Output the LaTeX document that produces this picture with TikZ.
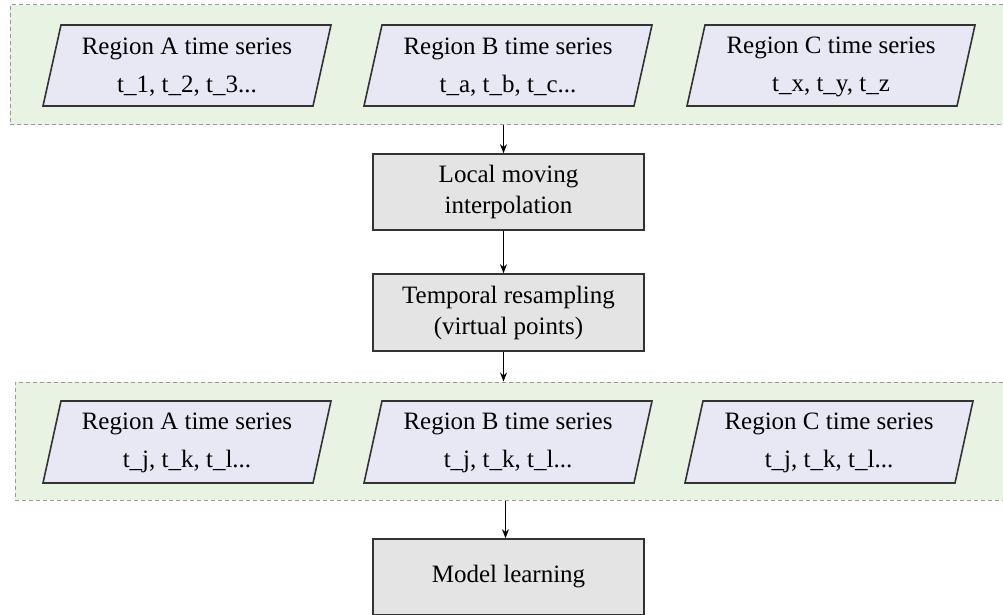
\documentclass[tikz,border=0pt]{standalone}
\usepackage{fontspec}
\setmainfont{Liberation Serif}
\usetikzlibrary{arrows.meta}
\definecolor{grpfill}{HTML}{E9F3E4}
\definecolor{grpline}{HTML}{9A9A9A}
\definecolor{parafill}{HTML}{E8E8F5}
\definecolor{boxfill}{HTML}{E4E4E4}
\definecolor{edgecol}{HTML}{333333}
\tikzset{
  group/.style={draw=grpline, fill=grpfill, line width=1pt, dash pattern=on 4pt off 3pt, rectangle, inner sep=0pt},
  para/.style={draw=edgecol, fill=parafill, line width=1.6pt, line join=miter},
  paratext/.style={align=center, inner sep=0pt, font=\fontsize{25}{38}\selectfont},
  procbox/.style={draw=edgecol, fill=boxfill, line width=1.6pt, rectangle, minimum width=271pt, align=center, inner sep=0pt, font=\fontsize{25}{31}\selectfont},
  arr/.style={draw=black, line width=1.1pt, -{Stealth[length=9pt,width=7pt]}}
}
\begin{document}
\begin{tikzpicture}[x=1pt,y=-1pt]
\useasboundingbox (0,0) rectangle (1003,615);
% groups
\node[group, minimum width=1000pt, minimum height=120pt] (gtop) at (510,65) {};
\node[group, minimum width=995pt, minimum height=118pt] (gbot) at (512.5,441) {};
% top parallelograms
\path[para] (61,25) -- (331,25) -- (313,106) -- (43,106) -- cycle;
\node[paratext] (ta) at (187,67) {Region A time series\\t\_1, t\_2, t\_3...};
\path[para] (382,25) -- (652,25) -- (634,106) -- (364,106) -- cycle;
\node[paratext] (tb) at (508,67) {Region B time series\\t\_a, t\_b, t\_c...};
\path[para] (705,25) -- (975,25) -- (957,106) -- (687,106) -- cycle;
\node[paratext] (tc) at (831,67) {Region C time series\\t\_x, t\_y, t\_z};
% process boxes
\node[procbox, minimum height=76pt] (lmi) at (508.5,192) {Local moving\\interpolation};
\node[procbox, minimum height=77pt] (trs) at (508.5,312.5) {Temporal resampling\\(virtual points)};
\node[procbox, minimum height=76pt] (ml) at (508.5,577) {Model learning};
% bottom parallelograms
\path[para] (61,401) -- (331,401) -- (313,483) -- (43,483) -- cycle;
\node[paratext] (ba) at (187,443) {Region A time series\\t\_j, t\_k, t\_l...};
\path[para] (382,401) -- (652,401) -- (634,483) -- (364,483) -- cycle;
\node[paratext] (bb) at (508,443) {Region B time series\\t\_j, t\_k, t\_l...};
\path[para] (703,401) -- (973,401) -- (955,483) -- (685,483) -- cycle;
\node[paratext] (bc) at (829,443) {Region C time series\\t\_j, t\_k, t\_l...};
% arrows
\draw[arr] ([xshift=-5pt]lmi.north |- gtop.south) -- ([xshift=-5pt]lmi.north);
\draw[arr] ([xshift=-5pt]lmi.south) -- ([xshift=-5pt]trs.north);
\draw[arr] ([xshift=-5pt]trs.south) -- ([xshift=-5pt]trs.south |- gbot.north);
\draw[arr] ([xshift=-3pt]ml.north |- gbot.south) -- ([xshift=-3pt]ml.north);
\end{tikzpicture}
\end{document}
